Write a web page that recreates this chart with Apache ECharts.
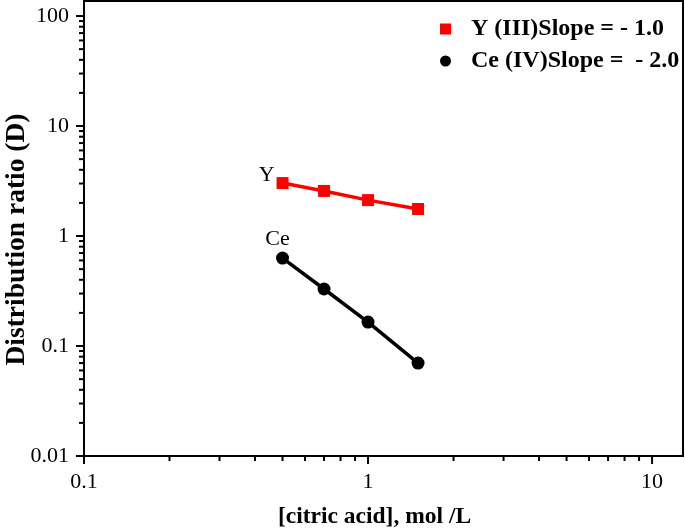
<!DOCTYPE html>
<html>
<head>
<meta charset="utf-8">
<script src="https://cdn.jsdelivr.net/npm/echarts@6/dist/echarts.min.js"></script>
<style>
  html, body { margin: 0; padding: 0; background: #fff; }
  #main { width: 685px; height: 532px; }
</style>
</head>
<body>
<div id="main"></div>
<script>
// citric acid concentration, mol/L
const citric = [0.5, 0.7, 1.0, 1.5];
// distribution ratios
const dY = [3.03, 2.57, 2.12, 1.76];
const dCe = [0.63, 0.33, 0.165, 0.070];

const seriesNames = ['Y (III)Slope = - 1.0', 'Ce (IV)Slope =  - 2.0'];

// tick positions on the log axes
const xMajor = [0.1, 1, 10];
const xMinor = [0.2, 0.3, 0.4, 0.5, 0.6, 0.7, 0.8, 0.9, 2, 3, 4, 5, 6, 7, 8, 9];
const yMajor = [0.01, 0.1, 1, 10, 100];
const yMinor = [0.02, 0.03, 0.04, 0.05, 0.06, 0.07, 0.08, 0.09,
  0.2, 0.3, 0.4, 0.5, 0.6, 0.7, 0.8, 0.9,
  2, 3, 4, 5, 6, 7, 8, 9,
  20, 30, 40, 50, 60, 70, 80, 90];

const xMin = 0.1, xMax = 12.85;
const yMin = 0.01, yMax = 137;

const font = 'Liberation Serif';

function isPow10(v) {
  const l = Math.log10(v);
  return Math.abs(l - Math.round(l)) < 1e-6;
}

function tickLabel(v) {
  if (!isPow10(v)) return '';
  const e = Math.round(Math.log10(v));
  return e < 0 ? Math.pow(10, e).toFixed(-e) : String(Math.pow(10, e));
}

const chart = echarts.init(document.getElementById('main'));

const xTickData = xMajor.map(v => [v, yMin, 1]).concat(xMinor.map(v => [v, yMin, 0]));
const yTickData = yMajor.map(v => [xMin, v, 1]).concat(yMinor.map(v => [xMin, v, 0]));

const option = {
  animation: false,
  backgroundColor: '#fff',
  grid: {
    left: 84, right: 2, top: 1, bottom: 76,
    outerBoundsMode: 'none',
    containLabel: false,
    show: true, borderColor: '#000', borderWidth: 2
  },
  legend: {
    left: 435, top: 12,
    orient: 'vertical',
    itemWidth: 11, itemHeight: 11, itemGap: 8,
    textStyle: {
      fontFamily: font, fontWeight: 'bold', fontSize: 24, color: '#000',
      padding: [0, 0, 0, 15]
    },
    data: [
      { name: seriesNames[0], icon: 'rect' },
      { name: seriesNames[1], icon: 'circle' }
    ]
  },
  xAxis: {
    type: 'log', logBase: 10, min: xMin, max: xMax,
    name: '[citric acid], mol /L',
    nameLocation: 'middle', nameGap: 49,
    nameMoveOverlap: false,
    nameTextStyle: {
      fontFamily: font, fontWeight: 'bold', fontSize: 23.5, color: '#000',
      padding: [0, 18, 0, 0]
    },
    axisLine: { lineStyle: { color: '#000', width: 2 } },
    axisTick: { show: false },
    splitLine: { show: false },
    axisLabel: {
      fontFamily: font, fontSize: 22, color: '#000', margin: 15,
      showMaxLabel: false, formatter: tickLabel
    }
  },
  yAxis: {
    type: 'log', logBase: 10, min: yMin, max: yMax,
    name: 'Distribution ratio (D)',
    nameLocation: 'middle', nameGap: 53,
    nameMoveOverlap: false,
    nameTextStyle: {
      fontFamily: font, fontWeight: 'bold', fontSize: 27.5, color: '#000',
      padding: [0, 22, 0, 0]
    },
    axisLine: { lineStyle: { color: '#000', width: 2 } },
    axisTick: { show: false },
    splitLine: { show: false },
    axisLabel: {
      fontFamily: font, fontSize: 22, color: '#000', margin: 15,
      showMaxLabel: false, formatter: tickLabel
    }
  },
  series: [
    {
      name: seriesNames[0],
      type: 'line',
      data: citric.map((x, i) => i === 0 ? {
        value: [x, dY[i]],
        label: {
          show: true, formatter: 'Y', position: 'left', distance: 2, offset: [0, -8],
          fontFamily: font, fontSize: 22, color: '#000'
        }
      } : [x, dY[i]]),
      symbol: 'rect', symbolSize: 12,
      itemStyle: { color: '#ff0000' },
      lineStyle: { color: '#ff0000', width: 3.5 },
      z: 3
    },
    {
      name: seriesNames[1],
      type: 'line',
      data: citric.map((x, i) => i === 0 ? {
        value: [x, dCe[i]],
        label: {
          show: true, formatter: 'Ce', position: 'top', distance: 1, offset: [-5, 0],
          fontFamily: font, fontSize: 22, color: '#000'
        }
      } : [x, dCe[i]]),
      symbol: 'circle', symbolSize: 13,
      itemStyle: { color: '#000' },
      lineStyle: { color: '#000', width: 3.5 },
      z: 3
    },
    {
      name: 'xticks',
      type: 'custom',
      clip: false,
      silent: true,
      data: xTickData,
      renderItem: function (params, api) {
        const p = api.coord([api.value(0), api.value(1)]);
        const len = api.value(2) ? 8 : 5;
        return {
          type: 'line',
          shape: { x1: p[0], y1: p[1], x2: p[0], y2: p[1] + len },
          style: { stroke: '#000', lineWidth: 2 }
        };
      }
    },
    {
      name: 'yticks',
      type: 'custom',
      clip: false,
      silent: true,
      data: yTickData,
      renderItem: function (params, api) {
        const p = api.coord([api.value(0), api.value(1)]);
        const len = api.value(2) ? 8 : 5;
        return {
          type: 'line',
          shape: { x1: p[0], y1: p[1], x2: p[0] - len, y2: p[1] },
          style: { stroke: '#000', lineWidth: 2 }
        };
      }
    }
  ]
};

chart.setOption(option);
</script>
</body>
</html>
